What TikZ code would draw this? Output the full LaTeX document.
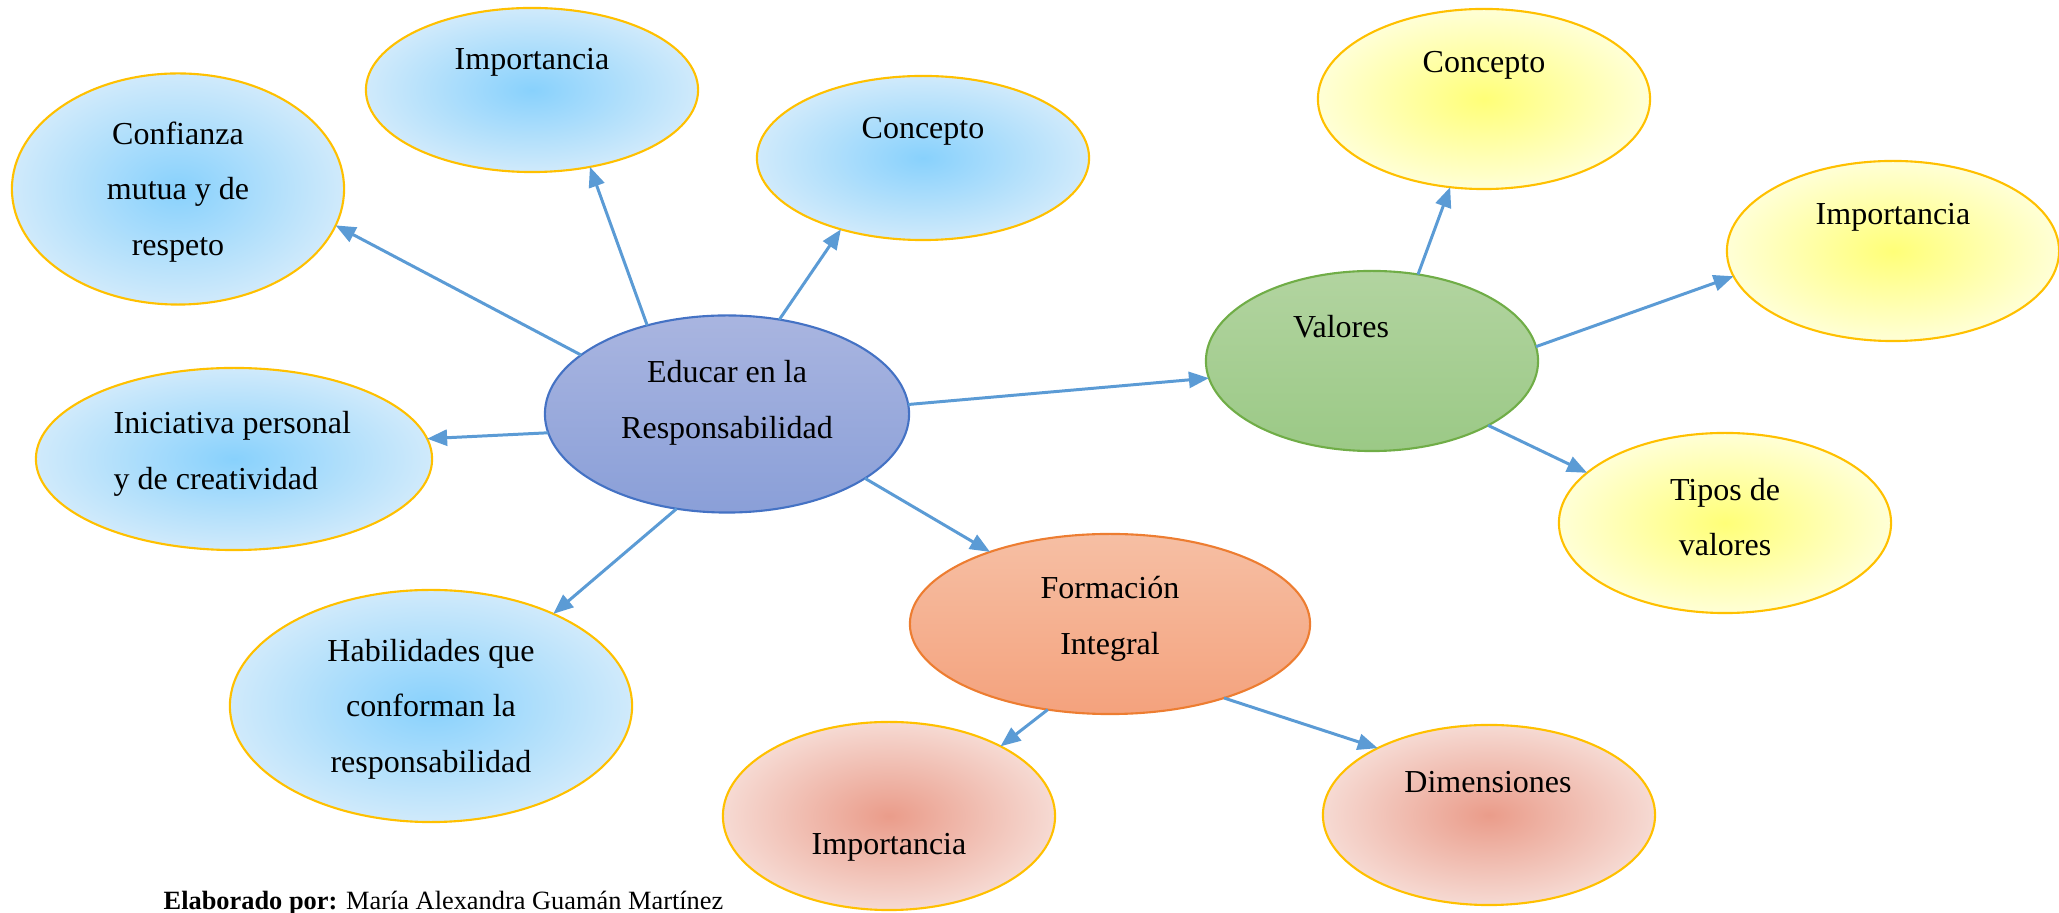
\documentclass[tikz,border=0pt]{standalone}
\usepackage{fontspec}
\setmainfont{Liberation Serif}
\usetikzlibrary{arrows.meta,shapes.geometric}
\usepackage{xcolor}
\definecolor{linkblue}{HTML}{5B9BD5}
\definecolor{rimgold}{HTML}{FFC000}
\definecolor{skyin}{HTML}{88D1FC}
\definecolor{skyout}{HTML}{D0EAFB}
\definecolor{sunin}{HTML}{FFFF78}
\definecolor{sunout}{HTML}{FFFFD6}
\definecolor{rosein}{HTML}{EA9C8A}
\definecolor{roseout}{HTML}{F6DAD3}
\definecolor{educrim}{HTML}{4472C4}
\definecolor{valorim}{HTML}{70AD47}
\definecolor{formrim}{HTML}{ED7D31}
\tikzset{
	bubble/.style={ellipse, line width=0.6pt, inner sep=0pt, outer sep=0pt},
	skyblob/.style={bubble, draw=rimgold, shading=radial, inner color=skyin, outer color=skyout},
	sunblob/.style={bubble, draw=rimgold, shading=radial, inner color=sunin, outer color=sunout},
	roseblob/.style={bubble, draw=rimgold, shading=radial, inner color=rosein, outer color=roseout},
	txt/.style={font=\fontsize{9.1}{15.8}\selectfont, align=center, inner sep=0pt},
	link/.style={draw=linkblue, line width=0.85pt, -{Triangle[length=0.2cm,width=0.16cm]}}
}

\begin{document}
\begin{tikzpicture}[x=0.01cm, y=-0.01cm]
	\useasboundingbox (0, 0) rectangle (2059, 913);
	\node (conf) [skyblob, minimum width=3.32cm, minimum height=2.31cm] at (178, 189) {};
	\node (impb) [skyblob, minimum width=3.32cm, minimum height=1.64cm] at (532, 90) {};
	\node (conb) [skyblob, minimum width=3.32cm, minimum height=1.64cm] at (923, 158) {};
	\node (inic) [skyblob, minimum width=3.96cm, minimum height=1.82cm] at (234, 459) {};
	\node (habi) [skyblob, minimum width=4.02cm, minimum height=2.32cm] at (431, 706) {};
	\node (educ) [bubble, draw=educrim, top color={rgb,255:red,169;green,181;blue,224}, bottom color={rgb,255:red,138;green,159;blue,216}, minimum width=3.64cm, minimum height=1.97cm] at (727, 414) {};
	\node (valo) [bubble, draw=valorim, shading angle=20, top color={rgb,255:red,178;green,212;blue,160}, bottom color={rgb,255:red,155;green,201;blue,134}, minimum width=3.32cm, minimum height=1.8cm] at (1372, 361) {};
	\node (form) [bubble, draw=formrim, top color={rgb,255:red,246;green,191;blue,164}, bottom color={rgb,255:red,244;green,162;blue,125}, minimum width=4cm, minimum height=1.8cm] at (1110, 624) {};
	\node (cony) [sunblob, minimum width=3.32cm, minimum height=1.8cm] at (1484, 99) {};
	\node (impy) [sunblob, minimum width=3.32cm, minimum height=1.8cm] at (1893, 251) {};
	\node (tipo) [sunblob, minimum width=3.32cm, minimum height=1.8cm] at (1725, 523) {};
	\node (impr) [roseblob, minimum width=3.32cm, minimum height=1.88cm] at (889, 816) {};
	\node (dime) [roseblob, minimum width=3.32cm, minimum height=1.8cm] at (1489, 815) {};

	\node (conf-t) [txt] at (178, 192) {Confianza\\mutua y de\\respeto};
	\node (impb-t) [txt] at (532, 62) {Importancia};
	\node (conb-t) [txt] at (923, 131) {Concepto};
	\node (inic-t) [txt, align=left, anchor=west] at (113, 454) {Iniciativa personal\\y de creatividad};
	\node (habi-t) [txt] at (431, 709) {Habilidades que\\conforman la\\responsabilidad};
	\node (educ-t) [txt] at (727, 403) {Educar en la\\Responsabilidad};
	\node (valo-t) [txt] at (1341, 327) {Valores};
	\node (form-t) [txt] at (1110, 619) {Formación\\Integral};
	\node (cony-t) [txt] at (1484, 65) {Concepto};
	\node (impy-t) [txt] at (1893, 217) {Importancia};
	\node (tipo-t) [txt] at (1725, 517) {Tipos de\\valores};
	\node (impr-t) [txt] at (889, 847) {Importancia};
	\node (dime-t) [txt] at (1488, 782) {Dimensiones};
	\node (autor) [inner sep=0pt, anchor=base west, font=\fontsize{7.5}{9}\selectfont] at (163, 910) {\textbf{Elaborado por:} María Alexandra Guamán Martínez};

	\draw[link] (educ.158) -- (conf.347);
	\draw[link] (educ.132) -- (impb.307);
	\draw[link] (educ.61) -- (conb.221);
	\draw[link] (educ.186) -- (inic.6);
	\draw[link] (educ.242) -- (habi.37);
	\draw[link] (educ.3) -- (valo.186);
	\draw[link] (educ.335) -- (form.149);
	\draw[link] (valo.62) -- (cony.249);
	\draw[link] (valo.5) -- (impy.189);
	\draw[link] (valo.331) -- (tipo.160);
	\draw[link] (form.234) -- (impr.32);
	\draw[link] (form.327) -- (dime.149);
\end{tikzpicture}
\end{document}
